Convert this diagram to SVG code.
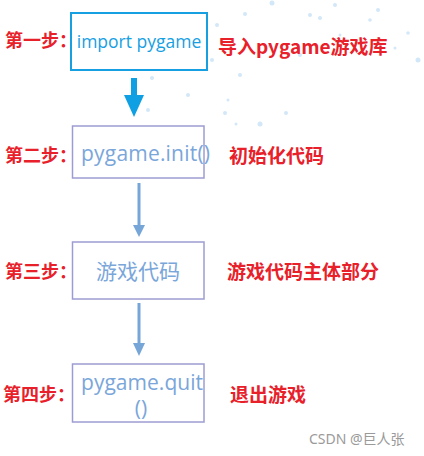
<svg xmlns="http://www.w3.org/2000/svg" width="424" height="456" viewBox="0 0 424 456">
<defs>
<style>
.step{font-family:"Noto Sans CJK SC","Noto Sans",sans-serif;font-weight:bold;font-size:18px;fill:#e8202a}
.note{font-family:"Noto Sans CJK SC","Noto Sans",sans-serif;font-weight:bold;font-size:19px;fill:#e8202a}
.code{font-family:"Open Sans","Noto Sans","Noto Sans CJK SC",sans-serif;font-size:21px;fill:#7aa6da}
.box{fill:#fff;stroke:#9c9cd2;stroke-width:1.5}
.conn{stroke:#76a5d8;stroke-width:3;fill:none}
.head{fill:#76a5d8}
.dot{fill:#d2e8f8}
</style>
</defs>
<rect width="424" height="456" fill="#fff"/>
<g id="decor">
<circle class="dot" cx="272" cy="3" r="2.5"/><circle class="dot" cx="245" cy="14" r="2"/><circle class="dot" cx="310" cy="15" r="2"/>
<circle class="dot" cx="335" cy="5" r="2"/><circle class="dot" cx="217" cy="25" r="2"/><circle class="dot" cx="378" cy="10" r="2"/>
<circle class="dot" cx="408" cy="33" r="1.8"/><circle class="dot" cx="418" cy="60" r="2.5"/><circle class="dot" cx="370" cy="20" r="1.8"/>
<circle class="dot" cx="160" cy="21" r="1.5"/>
<circle class="dot" cx="240" cy="75" r="2"/><circle class="dot" cx="212" cy="60" r="2"/><circle class="dot" cx="188" cy="95" r="2"/>
<circle class="dot" cx="152" cy="78" r="2"/><circle class="dot" cx="270" cy="46" r="2"/><circle class="dot" cx="300" cy="55" r="2"/>
<circle class="dot" cx="320" cy="18" r="2"/><circle class="dot" cx="148" cy="110" r="2"/><circle class="dot" cx="228" cy="100" r="1.5"/>
<circle class="dot" cx="260" cy="124" r="2.5"/><circle class="dot" cx="236" cy="124" r="1.5"/><circle class="dot" cx="200" cy="130" r="1.5"/>
<circle class="dot" cx="225" cy="113" r="2"/><circle class="dot" cx="286" cy="113" r="2"/><circle class="dot" cx="200" cy="62" r="1.5"/>
<circle class="dot" cx="165" cy="40" r="1.5"/><circle class="dot" cx="340" cy="35" r="1.5"/><circle class="dot" cx="395" cy="48" r="1.5"/>
</g>
<g id="connectors">
<path d="M134 78 V96" stroke="#0ea0e2" stroke-width="6" fill="none"/>
<path d="M124 95 L144 95 L134 117 Z" fill="#0ea0e2"/>
<path class="conn" d="M139 183 V226"/>
<path class="head" d="M133 225 L145 225 L139 237 Z"/>
<path class="conn" d="M139 303 V344"/>
<path class="head" d="M133 343 L145 343 L139 356 Z"/>
</g>
<g id="step1">
<text class="step" x="5" y="47">第一步：</text>
<rect x="71" y="13" width="136" height="57" fill="#fff" stroke="#16a0e2" stroke-width="2"/>
<text x="139" y="48" text-anchor="middle" font-family="'Open Sans','Noto Sans',sans-serif" font-size="17.5" fill="#16a0e2">import pygame</text>
<text class="note" x="218" y="54">导入pygame游戏库</text>
</g>
<g id="step2">
<text class="step" x="5" y="162">第二步：</text>
<rect class="box" x="72.5" y="126" width="131.5" height="52"/>
<text class="code" x="81" y="161" textLength="129">pygame.init()</text>
<text class="note" x="229" y="163">初始化代码</text>
</g>
<g id="step3">
<text class="step" x="5" y="278">第三步：</text>
<rect class="box" x="72.5" y="242" width="131.5" height="57"/>
<text class="code" x="138" y="279" text-anchor="middle" font-size="20.5">游戏代码</text>
<text class="note" x="227" y="279">游戏代码主体部分</text>
</g>
<g id="step4">
<text class="step" x="3" y="401">第四步：</text>
<rect class="box" x="72.5" y="364" width="131.5" height="58"/>
<text class="code" x="81" y="390" textLength="122">pygame.quit</text>
<text class="code" x="141" y="416" text-anchor="middle">()</text>
<text class="note" x="230" y="402">退出游戏</text>
</g>
<text x="309" y="444" font-family="'Noto Sans','Noto Sans CJK SC',sans-serif" font-size="14" fill="#9a9a9a">CSDN @巨人张</text>
</svg>
